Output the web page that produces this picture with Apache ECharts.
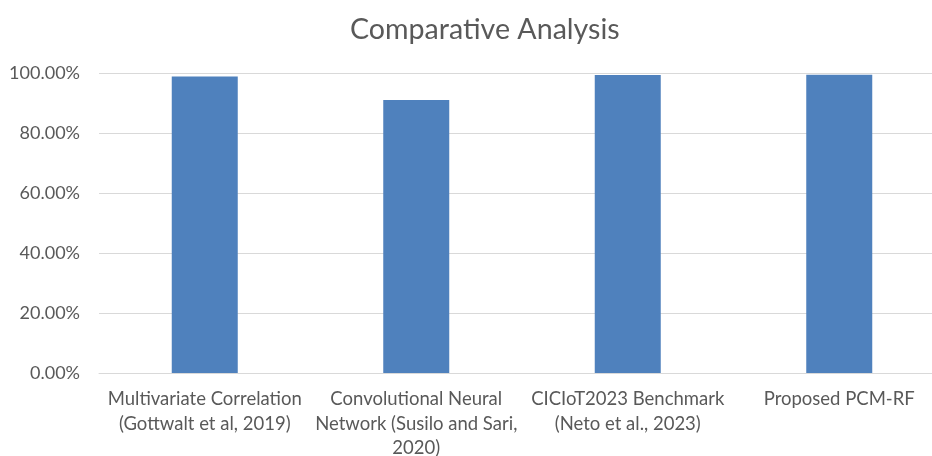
<!DOCTYPE html>
<html>
<head>
<meta charset="utf-8">
<script src="https://cdn.jsdelivr.net/npm/echarts@6/dist/echarts.min.js"></script>
<style>
  html, body { margin: 0; padding: 0; background: #ffffff; }
  #chart { width: 932px; height: 456px; }
</style>
</head>
<body>
<div id="chart"></div>
<script>
// Accuracy of each approach (percent)
const categories = [
  'Multivariate Correlation\n(Gottwalt et al, 2019)',
  'Convolutional Neural\nNetwork (Susilo and Sari,\n2020)',
  'CICIoT2023 Benchmark\n(Neto et al., 2023)',
  'Proposed PCM-RF'
];
const accuracy = [98.8, 91.0, 99.3, 99.4];
const yTicks = { min: 0, max: 100, interval: 20 };

const textColor = '#595959';
const font = 'Lato, "Open Sans", sans-serif';

const chart = echarts.init(document.getElementById('chart'), null, { renderer: 'canvas' });
chart.setOption({
  animation: false,
  backgroundColor: '#ffffff',
  title: {
    text: 'Comparative Analysis',
    left: 345,
    top: 10,
    textStyle: { fontFamily: font, fontSize: 28.6, fontWeight: 'normal', color: textColor }
  },
  // plot area runs past the right edge of the canvas
  grid: { left: 99, top: 73, width: 846, height: 300, containLabel: false, outerBoundsMode: 'none' },
  xAxis: {
    type: 'category',
    data: categories,
    axisLine: { show: true, lineStyle: { color: '#D9D9D9', width: 1 } },
    axisTick: { show: false },
    axisLabel: {
      interval: 0,
      margin: 14,
      fontFamily: font,
      fontSize: 18.5,
      lineHeight: 24.5,
      color: textColor
    }
  },
  yAxis: {
    type: 'value',
    min: yTicks.min,
    max: yTicks.max,
    interval: yTicks.interval,
    axisLine: { show: false },
    axisTick: { show: false },
    splitLine: { lineStyle: { color: '#D9D9D9', width: 1 } },
    axisLabel: {
      margin: 19,
      fontFamily: font,
      fontSize: 18,
      color: textColor,
      formatter: v => v.toFixed(2) + '%'
    }
  },
  series: [{
    type: 'bar',
    data: accuracy,
    barWidth: 66,
    itemStyle: { color: '#4F81BD' }
  }]
});
</script>
</body>
</html>
